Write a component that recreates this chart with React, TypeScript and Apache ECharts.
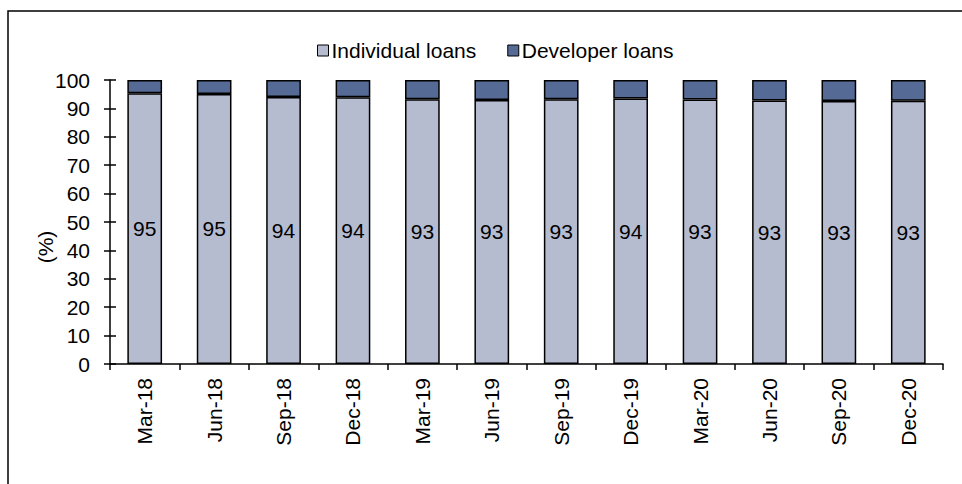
import React, { useEffect, useRef } from "react";
import * as echarts from "echarts";

const categories = ["Mar-18", "Jun-18", "Sep-18", "Dec-18", "Mar-19", "Jun-19", "Sep-19", "Dec-19", "Mar-20", "Jun-20", "Sep-20", "Dec-20"];
const individualLoans = [95.3, 95.1, 94.0, 93.9, 93.2, 93.0, 93.2, 93.5, 93.1, 92.8, 92.6, 92.7];
const developerLoans = [4.7, 4.9, 6.0, 6.1, 6.8, 7.0, 6.8, 6.5, 6.9, 7.2, 7.4, 7.3];
const seriesNames = ["Individual loans", "Developer loans"];
const yAxisName = "(%)";

const FONT = "'Liberation Sans', Arial, sans-serif";
const FS = 21;

export default function App() {
  const ref = useRef<HTMLDivElement>(null);
  useEffect(() => {
    if (!ref.current) return;
    const chart = echarts.init(ref.current, undefined, { renderer: "svg" });
    chart.setOption({
      animation: false,
      textStyle: { fontFamily: FONT },
      graphic: [
        {
          type: "rect",
          shape: { x: 8, y: 11, width: 1000, height: 1000 },
          style: { fill: "none", stroke: "#000", lineWidth: 1.5 },
          silent: true,
        },
        {
          type: "text",
          x: 45,
          y: 247,
          rotation: Math.PI / 2,
          style: {
            text: yAxisName,
            fontFamily: FONT,
            fontSize: FS,
            fill: "#000",
            align: "center",
            verticalAlign: "middle",
          },
        },
      ],
      legend: {
        top: 35,
        left: 312,
        itemWidth: 11,
        itemHeight: 11,
        itemGap: 31,
        icon: "rect",
        itemStyle: { borderColor: "#000", borderWidth: 1 },
        textStyle: { fontFamily: FONT, fontSize: FS, color: "#000", padding: [0, 0, 0, -2] },
        data: seriesNames,
      },
      grid: { left: 110, right: 19, top: 80, bottom: 120, containLabel: false },
      xAxis: {
        type: "category",
        data: categories,
        boundaryGap: true,
        axisLine: { lineStyle: { color: "#000", width: 1.5 } },
        axisTick: { show: true, length: 6, lineStyle: { color: "#000", width: 1.5 } },
        axisLabel: { rotate: 90, margin: 14, fontFamily: FONT, fontSize: FS, color: "#000" },
      },
      yAxis: [
        {
          type: "value",
          min: 0,
          max: 100,
          interval: 10,
          axisLine: { show: true, lineStyle: { color: "#000", width: 1.5 } },
          axisTick: { show: true, length: 6, lineStyle: { color: "#000", width: 1.5 } },
          axisLabel: { margin: 20, fontFamily: FONT, fontSize: FS, color: "#000" },
          splitLine: { show: false },
        },
        {
          type: "value",
          position: "left",
          min: 0,
          max: 100,
          interval: 10,
          axisLine: { show: false },
          axisTick: { show: true, inside: true, length: 6, lineStyle: { color: "#000", width: 1.5 } },
          axisLabel: { show: false },
          splitLine: { show: false },
        },
      ],
      series: [
        {
          name: seriesNames[0],
          type: "bar",
          stack: "total",
          yAxisIndex: 0,
          data: individualLoans,
          barWidth: "50%",
          itemStyle: { color: "#B6BCD0", borderColor: "#000", borderWidth: 1.5 },
          label: {
            show: true,
            position: "inside",
            fontFamily: FONT,
            fontSize: FS,
            color: "#000",
            formatter: (p: any) => String(Math.round(p.value)),
          },
        },
        {
          name: seriesNames[1],
          type: "bar",
          stack: "total",
          yAxisIndex: 0,
          data: developerLoans,
          barWidth: "50%",
          itemStyle: { color: "#556A94", borderColor: "#000", borderWidth: 1.5 },
        },
      ],
    });
    return () => chart.dispose();
  }, []);
  return (
    <div
      ref={ref}
      style={{ position: "fixed", left: 0, top: 0, width: 962, height: 484, background: "#fff" }}
    />
  );
}
